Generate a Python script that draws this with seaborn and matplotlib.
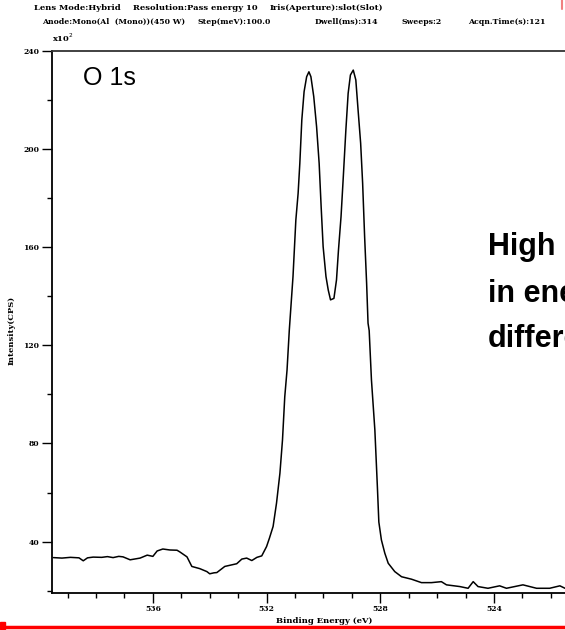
import matplotlib
matplotlib.use("Agg")
import matplotlib.pyplot as plt
from matplotlib.lines import Line2D
from matplotlib.patches import Rectangle
from matplotlib.ticker import MultipleLocator
import pandas as pd
import seaborn as sns

# O 1s spectrum (binding energy in eV, intensity in x10^2 CPS)
binding_energy = [
    539.5, 539.2, 538.9, 538.6, 538.45, 538.3, 538.1, 537.8, 537.6, 537.4,
    537.2, 537.05, 536.8, 536.45, 536.2, 536.0, 535.85, 535.65, 535.4, 535.15,
    535.05, 534.8, 534.63, 534.35, 534.1, 534.0, 533.85, 533.75, 533.47, 533.05,
    532.87, 532.7, 532.52, 532.34, 532.17, 532.0, 531.9, 531.77, 531.65, 531.53,
    531.44, 531.36, 531.28, 531.2, 531.07, 530.97, 530.89, 530.83, 530.76, 530.68,
    530.59, 530.51, 530.44, 530.34, 530.24, 530.15, 530.08, 530.01, 529.91, 529.83,
    529.75, 529.63, 529.54, 529.47, 529.38, 529.3, 529.21, 529.13, 529.05, 528.95,
    528.86, 528.78, 528.69, 528.62, 528.55, 528.48, 528.43, 528.39, 528.31, 528.19,
    528.1, 528.05, 527.96, 527.84, 527.72, 527.49, 527.25, 526.9, 526.55, 526.2,
    525.85, 525.67, 525.2, 524.91, 524.73, 524.56, 524.21, 523.8, 523.56, 522.98,
    522.5, 522.04, 521.68, 521.5,
]
intensity = [
    33.5, 33.3, 33.6, 33.4, 32.2, 33.4, 33.7, 33.6, 33.9, 33.5,
    34.0, 33.8, 32.6, 33.3, 34.5, 34.0, 36.2, 37.0, 36.6, 36.5,
    35.8, 33.8, 29.9, 29.0, 27.8, 26.9, 27.3, 27.4, 29.9, 31.0,
    32.9, 33.3, 32.3, 33.6, 34.2, 38.0, 41.4, 46.2, 55.7, 67.9,
    81.4, 99.0, 109.9, 126.2, 148.0, 171.0, 181.9, 194.1, 211.8, 223.3,
    229.4, 231.4, 229.4, 221.3, 209.0, 194.1, 176.5, 160.2, 148.0, 142.5,
    138.5, 139.1, 146.6, 158.8, 172.4, 188.7, 207.7, 222.6, 230.1, 232.1,
    228.1, 215.8, 202.3, 186.0, 164.2, 145.3, 129.0, 126.0, 105.9, 85.5,
    62.0, 48.0, 40.7, 35.3, 31.2, 27.8, 25.7, 24.7, 23.3, 23.3,
    23.7, 22.4, 21.7, 21.0, 23.7, 21.7, 21.0, 22.0, 21.0, 22.4,
    21.0, 21.0, 22.0, 21.0,
]

header_line1 = ["Lens Mode:Hybrid", "Resolution:Pass energy 10", "Iris(Aperture):slot(Slot)"]
header_line2 = ["Anode:Mono(Al  (Mono))(450 W)", "Step(meV):100.0", "Dwell(ms):314",
                "Sweeps:2", "Acqn.Time(s):121"]
side_note = ["High resolution", "in energy", "difference"]

sns.set_theme(style="white")
plt.rcParams["font.family"] = ["DejaVu Serif"]
plt.rcParams["text.color"] = "black"
plt.rcParams["axes.labelcolor"] = "black"
plt.rcParams["xtick.color"] = "black"
plt.rcParams["ytick.color"] = "black"

W, H = 565, 630
fig = plt.figure(figsize=(W / 100, H / 100), dpi=100)
ax = fig.add_axes([51.7 / W, 1 - 592.7 / H, 1 - 51.7 / W, (592.7 - 50.7) / H])

df = pd.DataFrame({"be": binding_energy, "cps": intensity})
sns.lineplot(data=df, x="be", y="cps", ax=ax, color="black", lw=1.1)

ax.set_xlim(539.56, 521.5)
ax.set_ylim(19.2, 240)
ax.xaxis.set_major_locator(MultipleLocator(4))
ax.xaxis.set_minor_locator(MultipleLocator(1))
ax.yaxis.set_major_locator(MultipleLocator(40))
ax.yaxis.set_minor_locator(MultipleLocator(20))
ax.set_yticks([40, 80, 120, 160, 200, 240])
ax.tick_params(which="major", direction="out", length=7, width=1, color="black",
               labelsize=5.5, pad=2, left=True, bottom=True)
ax.tick_params(which="minor", direction="out", length=3.6, width=1, color="black",
               left=True, bottom=True)
for lbl in ax.get_xticklabels() + ax.get_yticklabels():
    lbl.set_fontweight("bold")

for side in ("left", "bottom", "top"):
    ax.spines[side].set_visible(True)
    ax.spines[side].set_color("black")
    ax.spines[side].set_linewidth(1.3)
ax.spines["top"].set_color("#333333")
ax.spines["right"].set_visible(False)

ax.set_xlabel("Binding Energy (eV)", fontsize=6, fontweight="bold")
ax.xaxis.set_label_coords((324 - 51.7) / (W - 51.7), -24 / 542)
ax.set_ylabel("Intensity(CPS)", fontsize=6, fontweight="bold")
ax.yaxis.set_label_coords(-(51.7 - 16) / (W - 51.7), (592.7 - 330) / 542)

# instrument header lines
for txt, x0 in zip(header_line1, [34, 133, 270]):
    fig.text(x0 / W, 1 - 8 / H, txt, fontsize=6, fontweight="bold", va="center")
for txt, x0 in zip(header_line2, [42, 198, 315, 402, 468]):
    fig.text(x0 / W, 1 - 22 / H, txt, fontsize=5.6, fontweight="bold", va="center")
fig.text(52 / W, 1 - 38 / H, "x10$^2$", fontsize=6, fontweight="bold", va="center")

fig.text(83 / W, 1 - 78 / H, "O 1s", fontsize=18, family="Liberation Sans", va="center")
for txt, yb in zip(side_note, [255, 302, 347]):
    fig.text(488 / W, 1 - yb / H, txt, fontsize=22, fontweight="bold",
             family="Liberation Sans", va="baseline")

# red slide decorations
fig.add_artist(Line2D([0, 1], [1 - 627 / H, 1 - 627 / H], color="#ff0000", lw=2.5))
fig.add_artist(Rectangle((0, 1 - 629 / H), 5 / W, 7 / H, color="#ff0000",
                         transform=fig.transFigure))
fig.add_artist(Line2D([562 / W, 562 / W], [1, 1 - 9 / H], color="#f08080", lw=1.5))

fig.savefig("out.png", dpi=100)
